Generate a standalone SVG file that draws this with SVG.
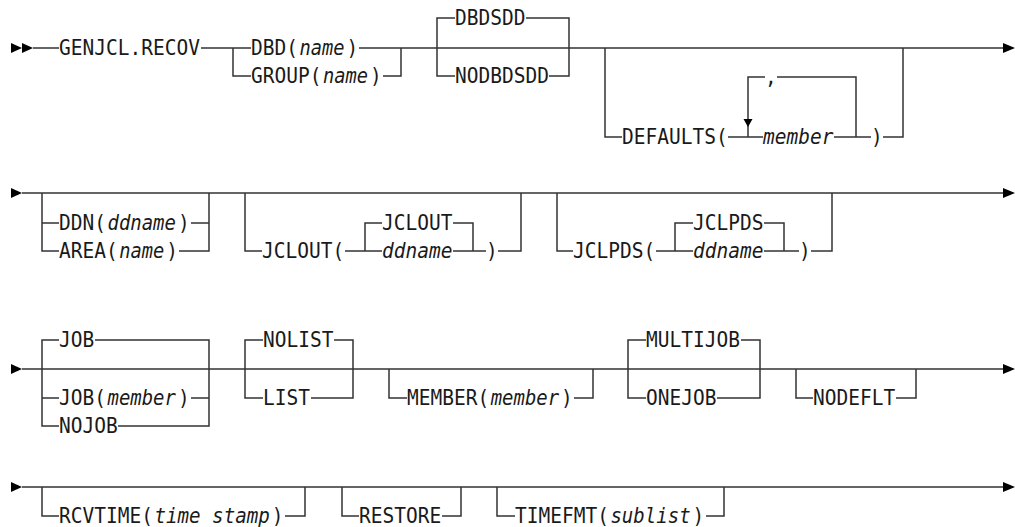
<svg xmlns="http://www.w3.org/2000/svg" width="1015" height="527" viewBox="0 0 1015 527">
<style>
.t{font-family:"DejaVu Sans Mono","Liberation Mono",monospace;font-size:21.5px;fill:#1a1a1a}
.i{font-style:italic}
.ln{fill:none;stroke:#333;stroke-width:1.5}
.ah{fill:#000}
</style>
<rect width="1015" height="527" fill="#fff"/>
<g id="connectors">
<path class="ln" d="M33 48H59 M201 48H251 M359 48H1003 M233 48V76H251 M383 76H401V48 M455 18H437V76H455 M526 18H569V76H549 M605 48V137H622 M728 137H763 M834 137H871 M883 137H903V48 M765 77H748V137 M777 77H856V137"/>
<path class="ln" d="M22 193H1003 M42 193V251H59 M42 223H59 M191 223H209 M179 251H209V193 M245 193V251H262 M345 251H382 M365 251V223H382 M453 223H473V251 M453 251H486 M498 251H521V193 M557 193V251H573 M656 251H693 M675 251V223H693 M764 223H784V251 M764 251H799 M811 251H832V193"/>
<path class="ln" d="M22 369H1003 M59 340H42V426H59 M42 398H59 M95 340H209V426H118 M191 398H209 M263 340H245V398H263 M334 340H353V398H311 M389 369V398H407 M574 398H593V369 M646 340H628V398H646 M741 340H760V398H717 M796 369V398H813 M896 398H916V369"/>
<path class="ln" d="M22 487H1003 M42 487V516H59 M285 516H305V487 M342 487V516H359 M442 516H461V487 M497 487V516H515 M706 516H724V487"/>
<polygon class="ah" points="11,43 22,48 11,53"/>
<polygon class="ah" points="22,43 33,48 22,53"/>
<polygon class="ah" points="1003,43 1015,48 1003,53"/>
<polygon class="ah" points="743.5,119 752.5,119 748,127"/>
<polygon class="ah" points="11,188 22,193 11,198"/>
<polygon class="ah" points="1003,188 1015,193 1003,198"/>
<polygon class="ah" points="11,364 22,369 11,374"/>
<polygon class="ah" points="1003,364 1015,369 1003,374"/>
<polygon class="ah" points="11,482 22,487 11,492"/>
<polygon class="ah" points="1003,482 1015,487 1003,492"/>
</g>
<g id="genjcl"><text class="t" x="59" y="55" textLength="140.9" lengthAdjust="spacingAndGlyphs">GENJCL.RECOV</text></g>
<g id="dbd">
<text class="t" x="251" y="55" textLength="47" lengthAdjust="spacingAndGlyphs">DBD(</text>
<text class="t i" x="299.5" y="55" textLength="45" lengthAdjust="spacingAndGlyphs">name</text>
<text class="t" x="346.4" y="55" textLength="11.7" lengthAdjust="spacingAndGlyphs">)</text>
</g>
<g id="group">
<text class="t" x="251" y="83" textLength="70.4" lengthAdjust="spacingAndGlyphs">GROUP(</text>
<text class="t i" x="322.9" y="83" textLength="45" lengthAdjust="spacingAndGlyphs">name</text>
<text class="t" x="369.9" y="83" textLength="11.7" lengthAdjust="spacingAndGlyphs">)</text>
</g>
<g id="dbdsdd"><text class="t" x="455" y="25" textLength="70.4" lengthAdjust="spacingAndGlyphs">DBDSDD</text></g>
<g id="nodbdsdd"><text class="t" x="455" y="83" textLength="93.9" lengthAdjust="spacingAndGlyphs">NODBDSDD</text></g>
<g id="defaults">
<text class="t" x="622" y="144" textLength="105.7" lengthAdjust="spacingAndGlyphs">DEFAULTS(</text>
<text class="t" x="765" y="84" textLength="11.7" lengthAdjust="spacingAndGlyphs">,</text>
<text class="t i" x="763" y="144" textLength="70.4" lengthAdjust="spacingAndGlyphs">member</text>
<text class="t" x="871" y="144" textLength="11.7" lengthAdjust="spacingAndGlyphs">)</text>
</g>
<g id="ddn">
<text class="t" x="59" y="230" textLength="47" lengthAdjust="spacingAndGlyphs">DDN(</text>
<text class="t i" x="107.5" y="230" textLength="68.4" lengthAdjust="spacingAndGlyphs">ddname</text>
<text class="t" x="177.9" y="230" textLength="11.7" lengthAdjust="spacingAndGlyphs">)</text>
</g>
<g id="area">
<text class="t" x="59" y="258" textLength="58.7" lengthAdjust="spacingAndGlyphs">AREA(</text>
<text class="t i" x="119.2" y="258" textLength="45" lengthAdjust="spacingAndGlyphs">name</text>
<text class="t" x="166.2" y="258" textLength="11.7" lengthAdjust="spacingAndGlyphs">)</text>
</g>
<g id="jclout">
<text class="t" x="262" y="258" textLength="82.2" lengthAdjust="spacingAndGlyphs">JCLOUT(</text>
<text class="t" x="382" y="230" textLength="70.4" lengthAdjust="spacingAndGlyphs">JCLOUT</text>
<text class="t i" x="382" y="258" textLength="70.4" lengthAdjust="spacingAndGlyphs">ddname</text>
<text class="t" x="486" y="258" textLength="11.7" lengthAdjust="spacingAndGlyphs">)</text>
</g>
<g id="jclpds">
<text class="t" x="573" y="258" textLength="82.2" lengthAdjust="spacingAndGlyphs">JCLPDS(</text>
<text class="t" x="693" y="230" textLength="70.4" lengthAdjust="spacingAndGlyphs">JCLPDS</text>
<text class="t i" x="693" y="258" textLength="70.4" lengthAdjust="spacingAndGlyphs">ddname</text>
<text class="t" x="799" y="258" textLength="11.7" lengthAdjust="spacingAndGlyphs">)</text>
</g>
<g id="job"><text class="t" x="59" y="347" textLength="35.2" lengthAdjust="spacingAndGlyphs">JOB</text></g>
<g id="jobmember">
<text class="t" x="59" y="405" textLength="47" lengthAdjust="spacingAndGlyphs">JOB(</text>
<text class="t i" x="107.5" y="405" textLength="68.4" lengthAdjust="spacingAndGlyphs">member</text>
<text class="t" x="177.9" y="405" textLength="11.7" lengthAdjust="spacingAndGlyphs">)</text>
</g>
<g id="nojob"><text class="t" x="59" y="433" textLength="58.7" lengthAdjust="spacingAndGlyphs">NOJOB</text></g>
<g id="nolist"><text class="t" x="263" y="347" textLength="70.4" lengthAdjust="spacingAndGlyphs">NOLIST</text></g>
<g id="list"><text class="t" x="263" y="405" textLength="47" lengthAdjust="spacingAndGlyphs">LIST</text></g>
<g id="member">
<text class="t" x="407" y="405" textLength="82.2" lengthAdjust="spacingAndGlyphs">MEMBER(</text>
<text class="t i" x="490.7" y="405" textLength="68.4" lengthAdjust="spacingAndGlyphs">member</text>
<text class="t" x="561.1" y="405" textLength="11.7" lengthAdjust="spacingAndGlyphs">)</text>
</g>
<g id="multijob"><text class="t" x="646" y="347" textLength="93.9" lengthAdjust="spacingAndGlyphs">MULTIJOB</text></g>
<g id="onejob"><text class="t" x="646" y="405" textLength="70.4" lengthAdjust="spacingAndGlyphs">ONEJOB</text></g>
<g id="nodeflt"><text class="t" x="813" y="405" textLength="82.2" lengthAdjust="spacingAndGlyphs">NODEFLT</text></g>
<g id="rcvtime">
<text class="t" x="59" y="523" textLength="93.9" lengthAdjust="spacingAndGlyphs">RCVTIME(</text>
<text class="t i" x="154.4" y="523" textLength="115.4" lengthAdjust="spacingAndGlyphs">time stamp</text>
<text class="t" x="271.8" y="523" textLength="11.7" lengthAdjust="spacingAndGlyphs">)</text>
</g>
<g id="restore"><text class="t" x="359" y="523" textLength="82.2" lengthAdjust="spacingAndGlyphs">RESTORE</text></g>
<g id="timefmt">
<text class="t" x="515" y="523" textLength="93.9" lengthAdjust="spacingAndGlyphs">TIMEFMT(</text>
<text class="t i" x="610.4" y="523" textLength="80.2" lengthAdjust="spacingAndGlyphs">sublist</text>
<text class="t" x="692.6" y="523" textLength="11.7" lengthAdjust="spacingAndGlyphs">)</text>
</g>
</svg>
